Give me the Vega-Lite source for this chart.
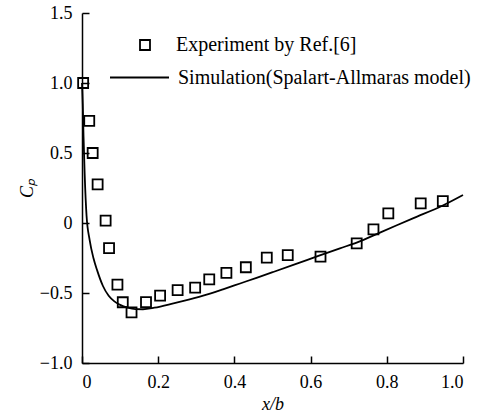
{
  "$schema": "https://vega.github.io/schema/vega-lite/v6.json",
  "width": 381,
  "height": 350,
  "autosize": {"type": "none"},
  "padding": {"left": 82, "top": 13, "right": 23, "bottom": 53},
  "background": "white",
  "config": {
    "view": {"stroke": null},
    "font": "Liberation Serif",
    "axis": {
      "domainColor": "black", "domainWidth": 1.5, "tickColor": "black", "tickWidth": 1.5,
      "tickSize": -7, "labelPadding": 17, "labelFont": "Liberation Serif", "labelFontSize": 18,
      "labelColor": "black", "grid": false, "titleFont": "Liberation Serif", "titleColor": "black",
      "titleFontSize": 18, "titleFontWeight": "normal", "titleFontStyle": "italic"
    },
    "legend": {"labelFont": "Liberation Serif", "labelFontSize": 20, "labelColor": "black", "labelLimit": 400}
  },
  "datasets": {
    "experiment": [
      {"x": 0.003, "cp": 1.0, "series": "Experiment by Ref.[6]"},
      {"x": 0.019, "cp": 0.73, "series": "Experiment by Ref.[6]"},
      {"x": 0.028, "cp": 0.5, "series": "Experiment by Ref.[6]"},
      {"x": 0.041, "cp": 0.276, "series": "Experiment by Ref.[6]"},
      {"x": 0.062, "cp": 0.017, "series": "Experiment by Ref.[6]"},
      {"x": 0.071, "cp": -0.18, "series": "Experiment by Ref.[6]"},
      {"x": 0.093, "cp": -0.44, "series": "Experiment by Ref.[6]"},
      {"x": 0.107, "cp": -0.566, "series": "Experiment by Ref.[6]"},
      {"x": 0.13, "cp": -0.638, "series": "Experiment by Ref.[6]"},
      {"x": 0.168, "cp": -0.565, "series": "Experiment by Ref.[6]"},
      {"x": 0.205, "cp": -0.519, "series": "Experiment by Ref.[6]"},
      {"x": 0.251, "cp": -0.479, "series": "Experiment by Ref.[6]"},
      {"x": 0.297, "cp": -0.462, "series": "Experiment by Ref.[6]"},
      {"x": 0.334, "cp": -0.402, "series": "Experiment by Ref.[6]"},
      {"x": 0.379, "cp": -0.356, "series": "Experiment by Ref.[6]"},
      {"x": 0.43, "cp": -0.316, "series": "Experiment by Ref.[6]"},
      {"x": 0.485, "cp": -0.248, "series": "Experiment by Ref.[6]"},
      {"x": 0.54, "cp": -0.229, "series": "Experiment by Ref.[6]"},
      {"x": 0.626, "cp": -0.24, "series": "Experiment by Ref.[6]"},
      {"x": 0.721, "cp": -0.145, "series": "Experiment by Ref.[6]"},
      {"x": 0.765, "cp": -0.045, "series": "Experiment by Ref.[6]"},
      {"x": 0.804, "cp": 0.069, "series": "Experiment by Ref.[6]"},
      {"x": 0.889, "cp": 0.14, "series": "Experiment by Ref.[6]"},
      {"x": 0.947, "cp": 0.156, "series": "Experiment by Ref.[6]"}
    ],
    "simulation": [
      {"x": 0.0, "cp": 1.0, "series": "Simulation(Spalart-Allmaras model)"},
      {"x": 0.002, "cp": 0.85, "series": "Simulation(Spalart-Allmaras model)"},
      {"x": 0.004, "cp": 0.62, "series": "Simulation(Spalart-Allmaras model)"},
      {"x": 0.007, "cp": 0.35, "series": "Simulation(Spalart-Allmaras model)"},
      {"x": 0.012, "cp": 0.05, "series": "Simulation(Spalart-Allmaras model)"},
      {"x": 0.02, "cp": -0.12, "series": "Simulation(Spalart-Allmaras model)"},
      {"x": 0.03, "cp": -0.25, "series": "Simulation(Spalart-Allmaras model)"},
      {"x": 0.04, "cp": -0.34, "series": "Simulation(Spalart-Allmaras model)"},
      {"x": 0.055, "cp": -0.45, "series": "Simulation(Spalart-Allmaras model)"},
      {"x": 0.07, "cp": -0.52, "series": "Simulation(Spalart-Allmaras model)"},
      {"x": 0.085, "cp": -0.56, "series": "Simulation(Spalart-Allmaras model)"},
      {"x": 0.1, "cp": -0.585, "series": "Simulation(Spalart-Allmaras model)"},
      {"x": 0.12, "cp": -0.605, "series": "Simulation(Spalart-Allmaras model)"},
      {"x": 0.14, "cp": -0.615, "series": "Simulation(Spalart-Allmaras model)"},
      {"x": 0.16, "cp": -0.616, "series": "Simulation(Spalart-Allmaras model)"},
      {"x": 0.19, "cp": -0.605, "series": "Simulation(Spalart-Allmaras model)"},
      {"x": 0.24, "cp": -0.574, "series": "Simulation(Spalart-Allmaras model)"},
      {"x": 0.28, "cp": -0.547, "series": "Simulation(Spalart-Allmaras model)"},
      {"x": 0.327, "cp": -0.512, "series": "Simulation(Spalart-Allmaras model)"},
      {"x": 0.37, "cp": -0.474, "series": "Simulation(Spalart-Allmaras model)"},
      {"x": 0.415, "cp": -0.432, "series": "Simulation(Spalart-Allmaras model)"},
      {"x": 0.46, "cp": -0.39, "series": "Simulation(Spalart-Allmaras model)"},
      {"x": 0.502, "cp": -0.35, "series": "Simulation(Spalart-Allmaras model)"},
      {"x": 0.59, "cp": -0.265, "series": "Simulation(Spalart-Allmaras model)"},
      {"x": 0.677, "cp": -0.181, "series": "Simulation(Spalart-Allmaras model)"},
      {"x": 0.721, "cp": -0.14, "series": "Simulation(Spalart-Allmaras model)"},
      {"x": 0.785, "cp": -0.065, "series": "Simulation(Spalart-Allmaras model)"},
      {"x": 0.87, "cp": 0.035, "series": "Simulation(Spalart-Allmaras model)"},
      {"x": 0.947, "cp": 0.125, "series": "Simulation(Spalart-Allmaras model)"},
      {"x": 1.0, "cp": 0.2, "series": "Simulation(Spalart-Allmaras model)"}
    ]
  },
  "encoding": {
    "x": {
      "field": "x", "type": "quantitative",
      "scale": {"domain": [0, 1], "nice": false, "zero": false},
      "axis": {"title": "x/b", "values": [0, 0.2, 0.4, 0.6, 0.8, 1.0],
        "labelExpr": "datum.value == 0 ? '0' : format(datum.value, '.1f')", "titlePadding": 4}
    },
    "y": {
      "field": "cp", "type": "quantitative",
      "scale": {"domain": [-1, 1.5], "nice": false, "zero": false},
      "axis": {"title": "Cₚ", "titleColor": "black", "values": [-1, -0.5, 0, 0.5, 1, 1.5],
        "labelExpr": "datum.value == 0 ? '0' : format(datum.value, '.1f')", "titlePadding": 3}
    }
  },
  "layer": [
    {
      "data": {"name": "simulation"},
      "mark": {"type": "line", "color": "black", "strokeWidth": 1.8, "interpolate": "monotone"},
      "encoding": {
        "stroke": {"field": "series", "type": "nominal", "scale": {"range": ["black"]},
          "legend": {"title": null, "orient": "none", "legendX": 27, "legendY": 34,
            "symbolType": "stroke", "symbolSize": 3481, "symbolStrokeWidth": 1.8, "labelOffset": 8}}
      }
    },
    {
      "data": {"name": "experiment"},
      "mark": {"type": "point", "shape": "square", "size": 100, "filled": false, "color": "black", "strokeWidth": 1.8, "opacity": 1},
      "encoding": {
        "shape": {"field": "series", "type": "nominal", "scale": {"range": ["square"]},
          "legend": {"title": null, "orient": "none", "legendX": 53, "legendY": 22,
            "symbolSize": 100, "symbolStrokeWidth": 1.8, "symbolStrokeColor": "black", "symbolFillColor": "transparent", "symbolOpacity": 1, "labelOffset": 21}}
      }
    }
  ]
}
